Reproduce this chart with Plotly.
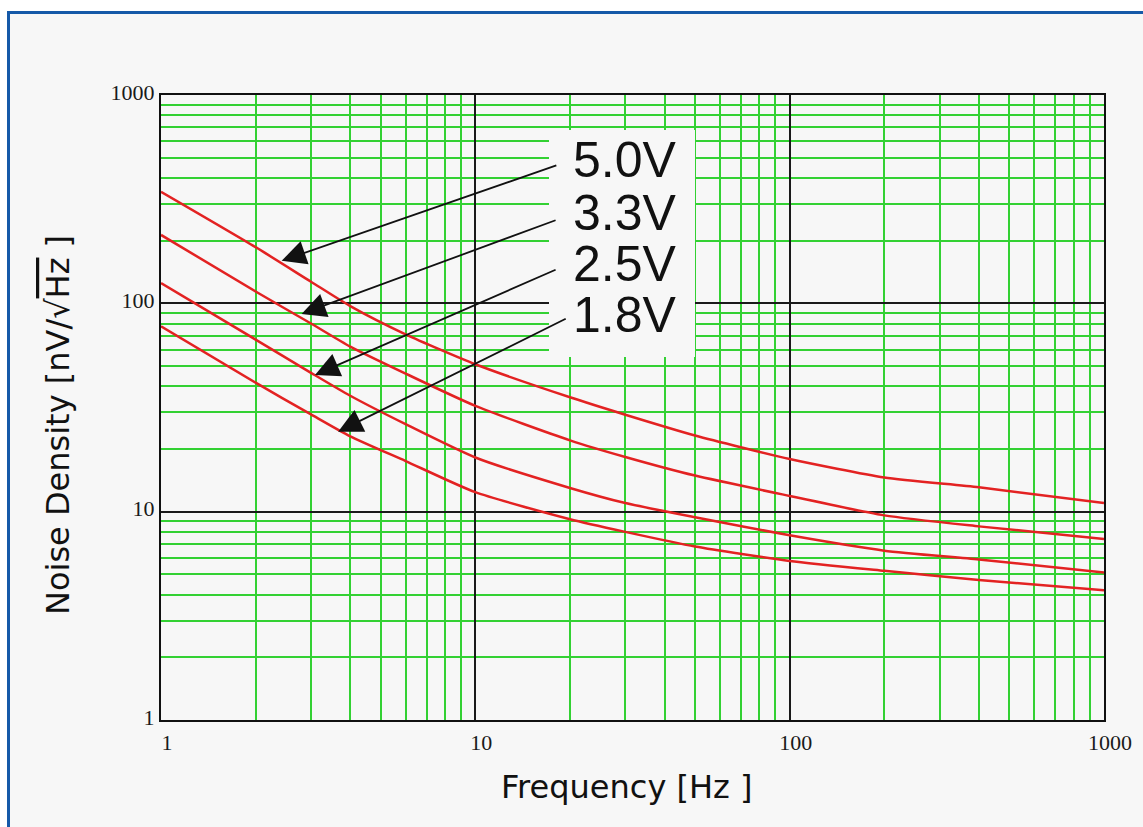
import plotly.graph_objects as go
import math

# ---- data ----
freq = [1, 2, 3, 4, 6, 10, 20, 30, 50, 100, 200, 400, 1000]
v50 = [343, 186, 127, 97, 71, 51, 35.4, 29.2, 23.2, 17.9, 14.6, 13.1, 11.0]
v33 = [213, 114, 80, 62, 46, 32.2, 22.0, 18.3, 14.9, 11.9, 9.6, 8.5, 7.4]
v25 = [125, 67, 46.4, 36, 26.3, 18.2, 13.0, 11.0, 9.4, 7.7, 6.5, 5.9, 5.1]
v18 = [77.6, 41.6, 29.3, 23, 17.5, 12.4, 9.2, 8.0, 6.8, 5.8, 5.2, 4.7, 4.2]
series_names = ["5.0V", "3.3V", "2.5V", "1.8V"]
series_vals = [v50, v33, v25, v18]

# arrow heads (points on curves) and tails (near labels), data units
arrow_head_x = [2.42, 2.80, 3.09, 3.66]
arrow_head_y = [160, 89, 45.3, 24.2]
arrow_tail_x = [18.3, 18.2, 18.2, 19.6]
arrow_tail_y = [462, 252, 146, 85]

RED = "#e32222"
GREEN = "#33d133"

fig = go.Figure()
for name, vals in zip(series_names, series_vals):
    fig.add_trace(go.Scatter(x=freq, y=vals, mode="lines", name=name,
                             line=dict(color=RED, width=2.5, shape="spline", smoothing=0.6),
                             showlegend=False, hoverinfo="skip"))

L, R, T, B = 161, 39, 95, 107
W, H = 1143, 827
pw, ph = W - L - R, H - T - B

def px(p):
    return (p - L) / pw

def py(q):
    return (H - B - q) / ph

shapes = [
    # page frame
    dict(type="rect", xref="paper", yref="paper", x0=px(8.5), x1=1.2, y0=-0.3, y1=py(12.5),
         fillcolor="#f7f7f7", line=dict(color="#1559a8", width=3), layer="below"),
    # label box covering grid
    dict(type="rect", xref="paper", yref="paper", x0=px(549), x1=px(695), y0=py(357), y1=py(130),
         fillcolor="#f7f7f7", line=dict(width=0), layer="above"),
]

annotations = []
for hx, hy, tx, ty in zip(arrow_head_x, arrow_head_y, arrow_tail_x, arrow_tail_y):
    annotations.append(dict(x=math.log10(hx), y=math.log10(hy), xref="x", yref="y",
                            ax=math.log10(tx), ay=math.log10(ty), axref="x", ayref="y",
                            text="", showarrow=True, arrowhead=2, arrowsize=2.7,
                            arrowwidth=1.8, arrowcolor="#111"))

label_y_px = [160, 213, 263.5, 315]
for name, ly in zip(series_names, label_y_px):
    annotations.append(dict(x=px(625), y=py(ly), xref="paper", yref="paper",
                            text=name, showarrow=False, xanchor="center", yanchor="middle",
                            font=dict(family="Liberation Sans", size=50, color="#111")))

annotations.append(dict(x=px(626), y=py(787), xref="paper", yref="paper",
                        text="Frequency [Hz ]", showarrow=False, xanchor="center", yanchor="middle",
                        font=dict(family="DejaVu Sans", size=32, color="#111")))
annotations.append(dict(x=px(58), y=py(425), xref="paper", yref="paper", textangle=-90,
                        text="Noise Density [nV/√<span style='text-decoration:overline'>Hz</span> ]",
                        showarrow=False, xanchor="center", yanchor="middle",
                        font=dict(family="DejaVu Sans", size=32, color="#111")))

axis_common = dict(type="log", range=[0, 3], tickmode="linear", tick0=0, dtick=1,
                   tickformat="d", showgrid=True, gridcolor="#1a1a1a", gridwidth=1.5,
                   showline=True, linecolor="#111", linewidth=2, mirror=True,
                   ticks="", zeroline=False,
                   tickfont=dict(family="Liberation Serif", size=22, color="#1a1a1a"),
                   minor=dict(dtick="D1", showgrid=True, gridcolor=GREEN, gridwidth=2, ticks=""))

fig.update_layout(
    width=W, height=H,
    margin=dict(l=L, r=R, t=T, b=B),
    paper_bgcolor="white", plot_bgcolor="#f7f7f7",
    shapes=shapes, annotations=annotations,
    xaxis=dict(**axis_common, ticklabelshift=6, ticklabelstandoff=2),
    yaxis=dict(**axis_common, ticklabelshift=-3, ticklabelstandoff=0),
)

fig.write_html("out.html", config={"displayModeBar": False},
               post_script="document.body.style.margin='0';document.body.style.overflow='hidden';")
